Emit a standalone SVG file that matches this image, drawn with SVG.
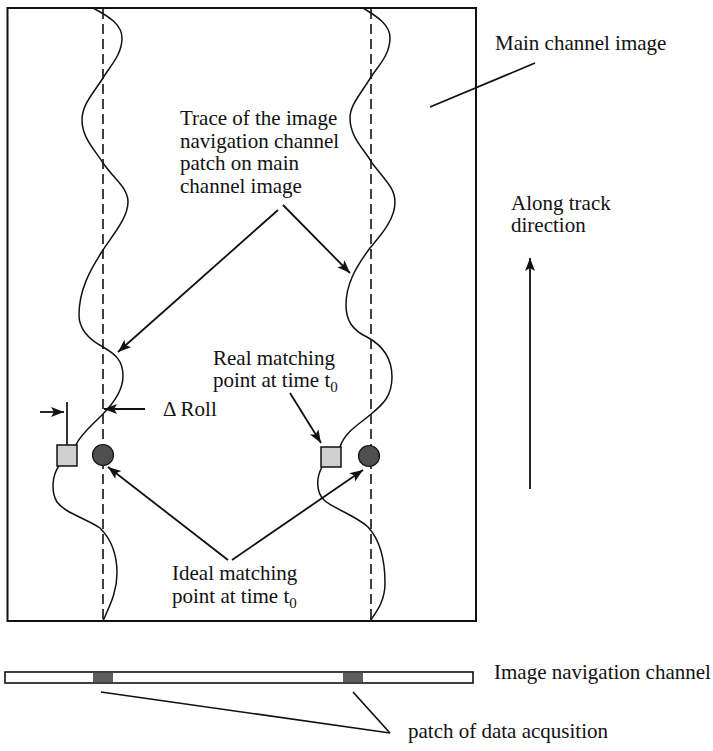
<svg xmlns="http://www.w3.org/2000/svg" width="713" height="751" viewBox="0 0 713 751">
<style>
text{font-family:"Liberation Serif","Times New Roman",serif;font-size:21px;fill:#111}
.sub{font-size:15px}
.ln{fill:none;stroke:#111;stroke-width:1.7}
.wave{fill:none;stroke:#111;stroke-width:1.5}
.dash{fill:none;stroke:#111;stroke-width:1.6;stroke-dasharray:10,5}
.arr{fill:none;stroke:#111;stroke-width:1.8;marker-end:url(#ah)}
</style>
<defs>
<marker id="ah" markerUnits="userSpaceOnUse" markerWidth="16" markerHeight="12" refX="13" refY="5" orient="auto">
<path d="M0,0 L13,5 L0,10 L3,5 z" fill="#111"/>
</marker>
</defs>
<rect width="713" height="751" fill="#fff"/>
<g id="main-image">
<rect x="7.5" y="8" width="468.5" height="613" fill="none" stroke="#111" stroke-width="2"/>
<line class="dash" x1="103" y1="9" x2="103" y2="620"/>
<line class="dash" x1="371" y1="9" x2="371" y2="620"/>
</g>
<g id="trace-left">
<path class="wave" d="M93,8 C110,17 122,25 122,38 C122,55 110,66 103,78 C92,95 82,105 82,120 C82,138 95,150 103,163 C115,180 128,188 128,202 C128,218 112,236 103,250 C90,270 79,290 79,315 C79,330 90,340 103,347 C115,354 123,360 123,376 C123,392 112,405 102,415 C92,425 80,435 76,445"/>
<path class="wave" d="M59,466 C52,475 51,492 57,502 C65,513 85,518 100,528 C112,540 117,555 117,573 C117,592 110,605 103,621"/>
</g>
<g id="trace-right">
<path class="wave" d="M363,8 C378,17 390,25 390,38 C390,55 378,66 371,77 C360,95 350,105 350,118 C350,138 365,150 372,163 C385,180 395,188 395,202 C395,220 380,236 370,248 C355,268 346,285 346,305 C346,320 352,330 367,337 C382,345 392,358 392,377 C392,397 382,405 370,415 C358,425 345,432 340,447"/>
<path class="wave" d="M322,467 C316,478 316,492 324,500 C332,508 355,515 368,527 C380,540 385,560 385,583 C385,600 378,610 370,621"/>
</g>
<g id="real-point-left"><rect x="57" y="445" width="20" height="21" fill="#cfcfcf" stroke="#111" stroke-width="1.5"/></g>
<g id="real-point-right"><rect x="321" y="447" width="20" height="20" fill="#cfcfcf" stroke="#111" stroke-width="1.5"/></g>
<g id="ideal-point-left"><circle cx="103" cy="455" r="10.5" fill="#4f4f4f" stroke="#111" stroke-width="1.2"/></g>
<g id="ideal-point-right"><circle cx="369" cy="456" r="10.5" fill="#4f4f4f" stroke="#111" stroke-width="1.2"/></g>
<g id="label-main"><text x="495" y="50">Main channel image</text></g>
<g id="label-trace">
<text x="180" y="125">Trace of the image</text>
<text x="180" y="148">navigation channel</text>
<text x="180" y="170">patch on main</text>
<text x="180" y="193">channel image</text>
</g>
<g id="label-along"><text x="511" y="210">Along track</text><text x="511" y="232">direction</text></g>
<g id="label-real"><text x="213" y="365">Real matching</text><text x="213" y="387">point at time t<tspan class="sub" dy="5">0</tspan></text></g>
<g id="label-roll"><text x="163" y="416">Δ Roll</text></g>
<g id="label-ideal"><text x="172" y="580">Ideal matching</text><text x="172" y="603">point at time t<tspan class="sub" dy="5">0</tspan></text></g>
<g id="nav-channel">
<rect x="5" y="672" width="468" height="11" fill="#fff" stroke="#111" stroke-width="1.6"/>
<rect x="93" y="672.8" width="20" height="9.4" fill="#5e5e5e"/>
<rect x="343" y="672.8" width="20" height="9.4" fill="#5e5e5e"/>
</g>
<g id="label-nav"><text x="494" y="679">Image navigation channel</text></g>
<g id="label-patch"><text x="408" y="738">patch of data acqusition</text></g>
<g id="connectors">
<line class="arr" x1="278" y1="210" x2="118" y2="352"/>
<line class="arr" x1="283" y1="205" x2="350" y2="273"/>
<line class="arr" x1="290" y1="393" x2="321" y2="443"/>
<line class="arr" x1="228" y1="560" x2="108" y2="467"/>
<line class="arr" x1="232" y1="560" x2="363" y2="470"/>
<line class="arr" x1="145" y1="409" x2="104" y2="409"/>
<line class="arr" x1="40" y1="412" x2="64" y2="412"/>
<line class="ln" x1="67" y1="402" x2="67" y2="445"/>
<line class="arr" x1="530" y1="489" x2="530" y2="258"/>
<line class="ln" x1="535" y1="63" x2="430" y2="107"/>
<line class="ln" x1="101" y1="692" x2="390" y2="733"/>
<line class="ln" x1="353" y1="692" x2="390" y2="733"/>
</g>
</svg>
